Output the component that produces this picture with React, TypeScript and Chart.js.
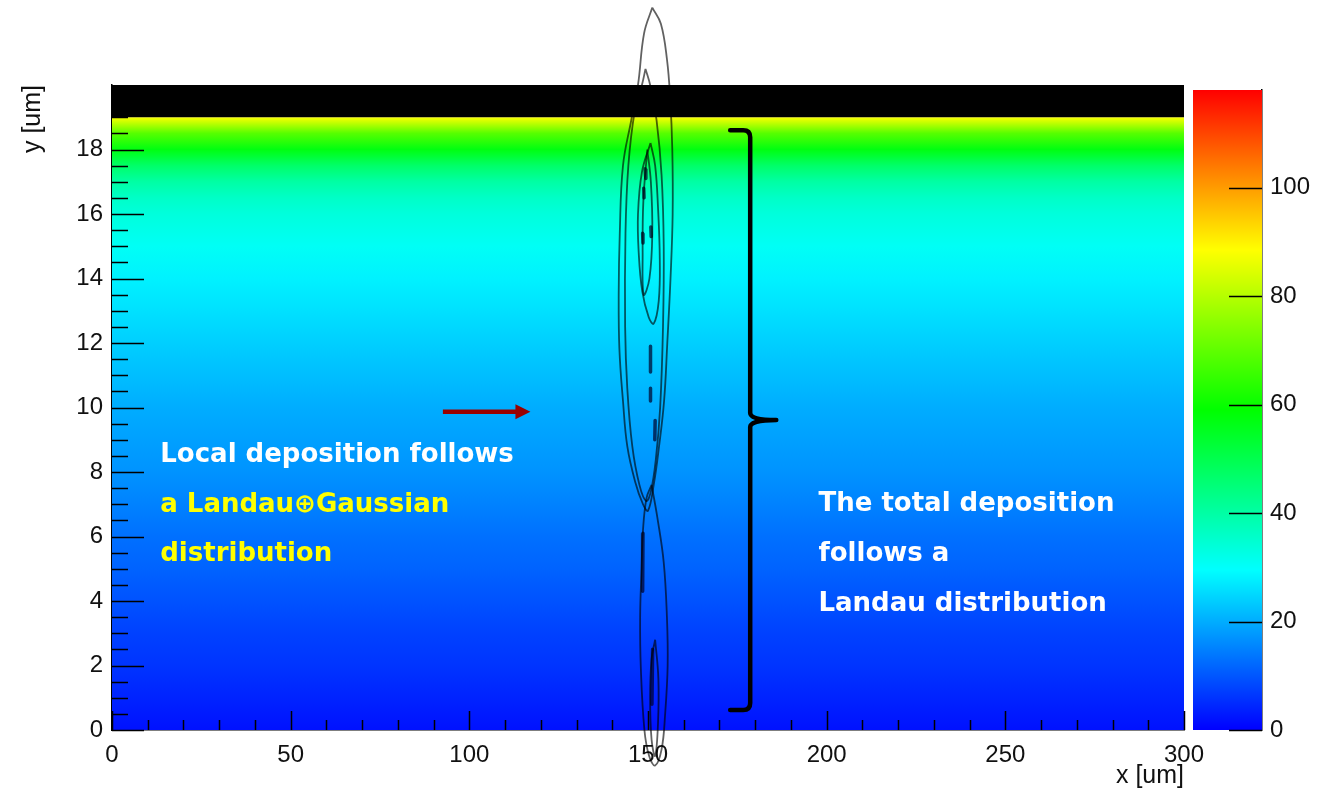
import React, { useEffect, useRef } from "react";
import { Chart, registerables } from "chart.js";
Chart.register(...registerables);

// ---------- data ----------
const xTickLabels = [0, 50, 100, 150, 200, 250, 300];
const yTickLabels = [0, 2, 4, 6, 8, 10, 12, 14, 16, 18];
const zTickLabels = [0, 20, 40, 60, 80, 100];
const xRange = [0, 300];
const yMax = 20;
const zMax = 118;
const deadLayer = [19, 20];

// energy deposition profile vs depth (colour of the map)
const depthY = [0, 1, 2, 3, 4, 5, 6, 7, 8, 9, 10, 11, 12, 13, 14, 15, 16, 16.5, 17, 17.5, 18, 18.5, 19];
const depositValue = [2, 4, 6, 7.5, 9.5, 11.5, 13, 15, 17, 18.5, 20, 22, 24, 26, 28, 30.5, 33.5, 36, 40, 47, 57, 69, 88];

// palette (value -> colour)
const paletteValues = [0, 29.5, 59, 88.5, 118];
const paletteColors = [
  [0, 0, 255],
  [0, 255, 255],
  [0, 255, 0],
  [255, 255, 0],
  [255, 0, 0],
];

// contour lines around x = 150 um
const contourA = [[151.2, 22.4], [153.6, 21.9], [155.3, 20.8], [156.2, 19.6], [156.8, 18.0], [156.9, 16.0], [156.3, 14.0], [155.4, 12.0], [154.5, 10.2], [153.1, 8.8], [151.6, 7.6], [150.0, 6.8], [148.6, 7.0], [146.4, 7.7], [144.2, 8.8], [143.0, 10.2], [142.0, 11.8], [141.8, 13.5], [142.1, 15.4], [143.0, 17.5], [145.3, 18.9], [147.2, 20.0], [148.9, 21.6], [151.2, 22.4]];
const contourE = [[149.3, 20.5], [150.6, 20.0], [152.4, 18.9], [153.8, 17.2], [154.4, 15.0], [154.2, 12.5], [153.4, 10.0], [152.2, 8.4], [150.8, 7.4], [149.5, 7.1], [147.6, 7.6], [145.6, 8.8], [144.2, 10.6], [143.6, 12.5], [143.7, 15.4], [144.5, 17.5], [146.3, 19.2], [148.3, 20.0], [149.3, 20.5]];
const contourD = [[150.7, 18.2], [152.0, 17.5], [152.8, 16.2], [153.3, 14.6], [153.0, 13.3], [151.6, 12.6], [150.2, 12.8], [148.4, 13.6], [147.4, 14.8], [147.2, 16.0], [148.3, 17.3], [150.7, 18.2]];
const contourF = [[149.8, 18.0], [150.8, 17.0], [151.2, 15.4], [150.4, 14.0], [148.8, 13.5], [148.5, 14.8], [148.7, 16.4], [149.8, 18.0]];
const contourC = [[151.0, 7.6], [152.6, 6.6], [154.4, 5.2], [155.3, 3.5], [155.5, 2.0], [154.8, 0.5], [153.8, -0.6], [152.0, -1.1], [150.3, -0.8], [149.0, 0.0], [148.0, 1.9], [147.8, 3.5], [148.2, 5.0], [148.6, 6.2], [149.6, 7.2], [151.0, 7.6]];
const contourG = [[152.0, 2.8], [152.9, 1.6], [152.8, 0.2], [152.0, -0.8], [151.0, -0.3], [150.6, 1.0], [151.0, 2.2], [152.0, 2.8]];
const contourDashes = [
  [[150.7, 11.9], [150.7, 11.1]],
  [[150.7, 10.6], [150.7, 10.2]],
  [[152.0, 9.6], [151.9, 9.0]],
  [[148.6, 6.1], [148.5, 4.3]],
  [[151.3, 2.5], [151.1, 0.8]],
  [[148.8, 16.8], [148.9, 16.5]],
  [[149.2, 17.4], [149.4, 17.1]],
  [[148.5, 15.4], [148.6, 15.1]],
  [[150.8, 15.6], [150.9, 15.3]],
];

// annotations (data coordinates)
const leftNoteLines = ["Local deposition follows", "a Landau\u2295Gaussian", "distribution"];
const leftNoteColors = ["#ffffff", "#ffff00", "#ffff00"];
const leftNoteX = 13.5;
const leftNoteY = [8.53, 6.98, 5.46];
const rightNoteLines = ["The total deposition", "follows a", "Landau distribution"];
const rightNoteX = 197.7;
const rightNoteY = [7.0, 5.46, 3.9];
const bracketX = [173.0, 178.6, 185.9]; // arm end, spine, tip
const bracketY = [18.6, 9.61, 0.62]; // top, middle, bottom
const arrowX = [92.6, 117.1];
const arrowY = 9.87;

// ---------- helpers ----------
const range = (a: number, b: number, step: number) => {
  const out: number[] = [];
  for (let v = a; v <= b + 1e-9; v += step) out.push(Math.round(v * 1000) / 1000);
  return out;
};
const yMajorTicks = range(0, 18, 2);
const yMinorTicks = range(0, 19, 0.5);
const xMajorTicks = xTickLabels;
const xMinorTicks = range(0, 300, 10);
const zMajorTicks = zTickLabels;

function paletteColor(v: number) {
  const vv = Math.max(paletteValues[0], Math.min(paletteValues[paletteValues.length - 1], v));
  let i = 0;
  while (i < paletteValues.length - 2 && vv > paletteValues[i + 1]) i++;
  const t = (vv - paletteValues[i]) / (paletteValues[i + 1] - paletteValues[i]);
  const a = paletteColors[i], b = paletteColors[i + 1];
  const c = a.map((ai, k) => Math.round(ai + (b[k] - ai) * t));
  return `rgb(${c[0]},${c[1]},${c[2]})`;
}

const toPts = (arr: number[][]) => arr.map(([x, y]) => ({ x, y }));

const tickFont = { family: "'Liberation Sans', Arial, Helvetica, sans-serif", size: 24 };
const titleFont = { family: "'Liberation Sans', Arial, Helvetica, sans-serif", size: 25 };
const noteFont = "bold 26px 'DejaVu Sans', sans-serif";

const contourStyle = {
  type: "line" as const,
  borderColor: "rgba(0,0,0,0.62)",
  borderWidth: 1.8,
  tension: 0.4,
  pointRadius: 0,
  fill: false,
  clip: false as any,
  order: 0,
};

const decorPlugin = {
  id: "decor",
  afterDatasetsDraw(chart: any) {
    const { ctx, chartArea: a, scales } = chart;
    const x = scales.x, y = scales.y;
    ctx.save();
    // inward ticks
    ctx.strokeStyle = "#000";
    ctx.lineWidth = 1.5;
    ctx.beginPath();
    yMinorTicks.forEach((v) => {
      const p = Math.round(y.getPixelForValue(v)) + 0.5;
      const len = yMajorTicks.includes(v) ? 32 : 16;
      ctx.moveTo(a.left, p);
      ctx.lineTo(a.left + len, p);
    });
    xMinorTicks.forEach((v) => {
      const p = Math.round(x.getPixelForValue(v)) + 0.5;
      const len = xMajorTicks.includes(v) ? 19 : 10;
      ctx.moveTo(p, a.bottom);
      ctx.lineTo(p, a.bottom - len);
    });
    ctx.stroke();

    // bracket
    const xa = x.getPixelForValue(bracketX[0]);
    const xv = x.getPixelForValue(bracketX[1]);
    const xt = x.getPixelForValue(bracketX[2]);
    const yt = y.getPixelForValue(bracketY[0]);
    const ym = y.getPixelForValue(bracketY[1]);
    const yb = y.getPixelForValue(bracketY[2]);
    const r = 7;
    ctx.strokeStyle = "#000";
    ctx.lineWidth = 4.5;
    ctx.lineCap = "round";
    ctx.lineJoin = "round";
    ctx.beginPath();
    ctx.moveTo(xa, yt);
    ctx.lineTo(xv - r, yt);
    ctx.quadraticCurveTo(xv, yt, xv, yt + r);
    ctx.lineTo(xv, ym - r);
    ctx.quadraticCurveTo(xv, ym, xt, ym);
    ctx.moveTo(xt, ym);
    ctx.quadraticCurveTo(xv, ym, xv, ym + r);
    ctx.lineTo(xv, yb - r);
    ctx.quadraticCurveTo(xv, yb, xv - r, yb);
    ctx.lineTo(xa, yb);
    ctx.stroke();

    // arrow
    const ax0 = x.getPixelForValue(arrowX[0]);
    const ax1 = x.getPixelForValue(arrowX[1]);
    const ay = y.getPixelForValue(arrowY);
    ctx.strokeStyle = "#990000";
    ctx.fillStyle = "#990000";
    ctx.lineCap = "butt";
    ctx.lineWidth = 4.5;
    ctx.beginPath();
    ctx.moveTo(ax0, ay);
    ctx.lineTo(ax1 - 14, ay);
    ctx.stroke();
    ctx.beginPath();
    ctx.moveTo(ax1 - 15, ay - 7.5);
    ctx.lineTo(ax1, ay);
    ctx.lineTo(ax1 - 15, ay + 7.5);
    ctx.closePath();
    ctx.fill();

    // notes
    ctx.font = noteFont;
    ctx.textBaseline = "middle";
    ctx.textAlign = "left";
    leftNoteLines.forEach((t, i) => {
      ctx.fillStyle = leftNoteColors[i];
      ctx.fillText(t, x.getPixelForValue(leftNoteX), y.getPixelForValue(leftNoteY[i]));
    });
    ctx.fillStyle = "#ffffff";
    rightNoteLines.forEach((t, i) => {
      ctx.fillText(t, x.getPixelForValue(rightNoteX), y.getPixelForValue(rightNoteY[i]));
    });
    ctx.restore();
  },
};

const barTickPlugin = {
  id: "barTicks",
  afterDatasetsDraw(chart: any) {
    const { ctx, chartArea: a, scales } = chart;
    const y = scales.y;
    ctx.save();
    ctx.strokeStyle = "#000";
    ctx.lineWidth = 1.5;
    ctx.beginPath();
    zMajorTicks.forEach((v) => {
      const p = Math.round(y.getPixelForValue(v)) + 0.5;
      ctx.moveTo(a.right, p);
      ctx.lineTo(a.right - 33, p);
    });
    ctx.stroke();
    ctx.restore();
  },
};

function mainConfig(): any {
  const mapGradient = (c: any) => {
    const chart = c.chart;
    const y = chart.scales && chart.scales.y;
    if (!chart.chartArea || !y) return "rgba(0,0,0,0)";
    const y0 = y.getPixelForValue(depthY[0]);
    const y1 = y.getPixelForValue(depthY[depthY.length - 1]);
    const g = chart.ctx.createLinearGradient(0, y0, 0, y1);
    const span = depthY[depthY.length - 1] - depthY[0];
    depthY.forEach((d, i) => g.addColorStop((d - depthY[0]) / span, paletteColor(depositValue[i])));
    return g;
  };
  const contours = [contourA, contourE, contourD, contourF, contourC, contourG];
  const dashData: any[] = [];
  contourDashes.forEach((seg) => {
    dashData.push(...toPts(seg));
    dashData.push({ x: seg[1][0], y: null });
  });
  return {
    type: "line",
    data: {
      datasets: [
        {
          data: [{ x: xRange[0], y: deadLayer[0] }, { x: xRange[1], y: deadLayer[0] }],
          fill: "origin",
          backgroundColor: mapGradient,
          borderWidth: 0,
          pointRadius: 0,
          order: 10,
        },
        {
          data: [{ x: xRange[0], y: deadLayer[1] }, { x: xRange[1], y: deadLayer[1] }],
          fill: { value: deadLayer[0] },
          backgroundColor: "#000000",
          borderWidth: 0,
          pointRadius: 0,
          order: 9,
        },
        ...contours.map((c) => ({ ...contourStyle, data: toPts(c) })),
        {
          ...contourStyle,
          data: dashData,
          tension: 0,
          borderWidth: 3.5,
          borderColor: "rgba(0,0,40,0.7)",
          borderCapStyle: "round",
        },
      ],
    },
    options: {
      responsive: false,
      animation: false,
      devicePixelRatio: 1,
      events: [],
      layout: { padding: { left: 0, right: 133, top: 85, bottom: 0 } },
      plugins: { legend: { display: false }, tooltip: { enabled: false } },
      scales: {
        x: {
          type: "linear",
          min: xRange[0],
          max: xRange[1],
          afterFit: (s: any) => { s.height = 65; },
          afterBuildTicks: (s: any) => { s.ticks = xTickLabels.map((v) => ({ value: v })); },
          ticks: { font: tickFont, color: "#111", padding: 11, maxRotation: 0, autoSkip: false },
          grid: { display: false, drawTicks: false },
          border: { display: true, color: "#000", width: 1.5 },
          title: { display: true, text: "x [um]", align: "end", font: titleFont, color: "#111", padding: { top: 0, bottom: 4 } },
        },
        y: {
          type: "linear",
          min: 0,
          max: yMax,
          afterFit: (s: any) => { s.width = 112; },
          afterBuildTicks: (s: any) => { s.ticks = yTickLabels.map((v) => ({ value: v })); },
          ticks: { font: tickFont, color: "#111", padding: 9, autoSkip: false },
          grid: { display: false, drawTicks: false },
          border: { display: true, color: "#000", width: 1.5 },
          title: { display: true, text: "y [um]", align: "end", font: titleFont, color: "#111", padding: { top: 18, bottom: 0 } },
        },
      },
    },
    plugins: [decorPlugin],
  };
}

function barConfig(): any {
  const barGradient = (c: any) => {
    const chart = c.chart;
    const y = chart.scales && chart.scales.y;
    if (!chart.chartArea || !y) return "rgba(0,0,0,0)";
    const g = chart.ctx.createLinearGradient(0, y.getPixelForValue(0), 0, y.getPixelForValue(zMax));
    paletteValues.forEach((v) => g.addColorStop(v / zMax, paletteColor(v)));
    return g;
  };
  return {
    type: "line",
    data: {
      datasets: [
        {
          data: [{ x: 0, y: zMax }, { x: 1, y: zMax }],
          fill: "origin",
          backgroundColor: barGradient,
          borderWidth: 0,
          pointRadius: 0,
        },
      ],
    },
    options: {
      responsive: false,
      animation: false,
      devicePixelRatio: 1,
      events: [],
      layout: { padding: { left: 8, right: 0, top: 90, bottom: 65 } },
      plugins: { legend: { display: false }, tooltip: { enabled: false } },
      scales: {
        x: { type: "linear", min: 0, max: 1, display: false },
        y: {
          type: "linear",
          position: "right",
          min: 0,
          max: zMax,
          afterFit: (s: any) => { s.width = 55; },
          afterBuildTicks: (s: any) => { s.ticks = zTickLabels.map((v) => ({ value: v })); },
          ticks: { font: tickFont, color: "#111", padding: 8, autoSkip: false },
          grid: { display: false, drawTicks: false },
          border: { display: true, color: "#000", width: 1.5 },
        },
      },
    },
    plugins: [barTickPlugin],
  };
}

export default function App() {
  const mainRef = useRef<HTMLCanvasElement>(null);
  const barRef = useRef<HTMLCanvasElement>(null);
  useEffect(() => {
    const c1 = new Chart(mainRef.current as HTMLCanvasElement, mainConfig());
    const c2 = new Chart(barRef.current as HTMLCanvasElement, barConfig());
    return () => {
      c1.destroy();
      c2.destroy();
    };
  }, []);
  return (
    <div style={{ position: "fixed", left: 0, top: 0, width: 1317, height: 795, background: "#fff", overflow: "hidden" }}>
      <canvas ref={mainRef} width={1317} height={795} style={{ position: "absolute", left: 0, top: 0, width: 1317, height: 795 }} />
      <canvas ref={barRef} width={132} height={795} style={{ position: "absolute", left: 1185, top: 0, width: 132, height: 795 }} />
    </div>
  );
}
